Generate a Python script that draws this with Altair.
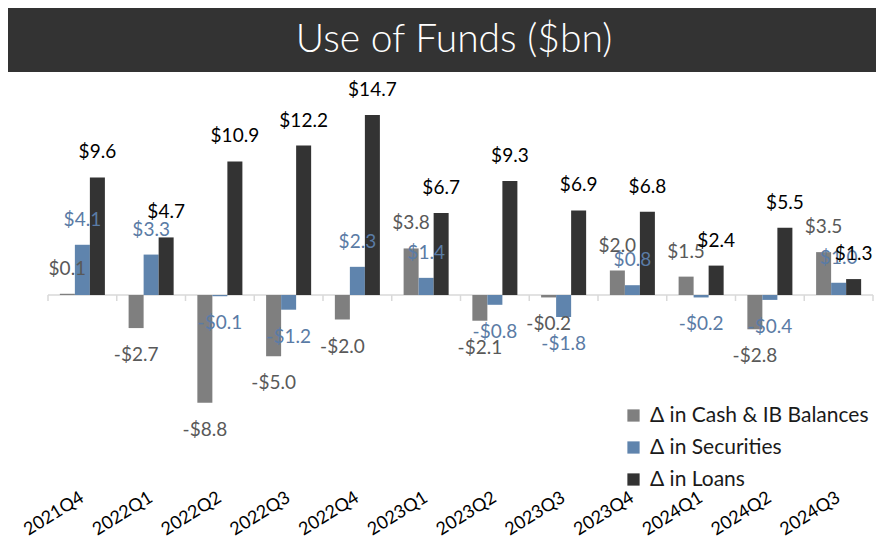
import altair as alt
import pandas as pd

title_text = "Use of Funds ($bn)"
quarters = ["2021Q4", "2022Q1", "2022Q2", "2022Q3", "2022Q4", "2023Q1",
            "2023Q2", "2023Q3", "2023Q4", "2024Q1", "2024Q2", "2024Q3"]
series_names = ["Δ in Cash & IB Balances", "Δ in Securities", "Δ in Loans"]
cash = [0.1, -2.7, -8.8, -5.0, -2.0, 3.8, -2.1, -0.2, 2.0, 1.5, -2.8, 3.5]
securities = [4.1, 3.3, -0.1, -1.2, 2.3, 1.4, -0.8, -1.8, 0.8, -0.2, -0.4, 1.0]
loans = [9.6, 4.7, 10.9, 12.2, 14.7, 6.7, 9.3, 6.9, 6.8, 2.4, 5.5, 1.3]

bar_colors = ["#7f7f7f", "#5f84ad", "#333333"]
label_colors = ["#595959", "#5a7ba5", "#000000"]

rows = []
for i, q in enumerate(quarters):
    for s, vals in zip(series_names, [cash, securities, loans]):
        v = vals[i]
        rows.append({"quarter": q, "series": s, "value": v,
                     "label": ("-$" if v < 0 else "$") + f"{abs(v):.1f}"})
df = pd.DataFrame(rows)

W, H = 825, 406
ZERO_PX = 215
K = 12.25
ymax = ZERO_PX / K
ymin = -(H - ZERO_PX) / K

FONT = "Lato"
AXIS_GRAY = "#d9d9d9"
LABEL_SIZE = 19

x_enc = alt.X(
    "quarter:N", sort=quarters,
    scale=alt.Scale(paddingInner=0, paddingOuter=0),
    axis=alt.Axis(title=None, domain=False, ticks=False,
                  labelAngle=328, labelPadding=10, labelFontSize=18, labelColor="#000000",
                  labelFont=FONT, labelOverlap=False))
xo_enc = alt.XOffset("series:N", sort=series_names,
                     scale=alt.Scale(paddingInner=0, paddingOuter=0.79))
y_scale = alt.Scale(domain=[ymin, ymax], nice=False, zero=False)
y_enc = alt.Y("value:Q", scale=y_scale, axis=None)

base = alt.Chart(df)

tdf = pd.DataFrame({"title": [title_text], "zero": [0.0]})
qdf = pd.DataFrame({"quarter": quarters, "zero": [0.0] * len(quarters)})

zero_line = alt.Chart(tdf).mark_rule(color=AXIS_GRAY, strokeWidth=1.5).encode(
    x=alt.value(0), x2=alt.value(W), y=alt.Y("zero:Q", scale=y_scale, axis=None))

cat_ticks = alt.Chart(qdf).mark_rule(color=AXIS_GRAY, strokeWidth=1.5).encode(
    x=alt.X("quarter:N", sort=quarters, bandPosition=0),
    y=alt.Y("zero:Q", scale=y_scale, axis=None), y2=alt.value(ZERO_PX + 6))

end_tick = alt.Chart(tdf).mark_rule(color=AXIS_GRAY, strokeWidth=1.5).encode(
    x=alt.value(W), y=alt.Y("zero:Q", scale=y_scale, axis=None), y2=alt.value(ZERO_PX + 6))

bars = base.mark_bar().encode(
    x=x_enc, xOffset=xo_enc, y=y_enc,
    color=alt.Color("series:N", sort=series_names,
                    scale=alt.Scale(domain=series_names, range=bar_colors),
                    legend=alt.Legend(title=None, orient="none", legendX=575, legendY=325,
                                      symbolType="square", symbolSize=150,
                                      symbolStrokeWidth=0, labelFontSize=21, labelFont=FONT,
                                      labelColor="#1a1a1a", rowPadding=10, labelLimit=0,
                                      labelOffset=6)))

lab_color = alt.Color("series:N", sort=series_names,
                      scale=alt.Scale(domain=series_names, range=label_colors), legend=None)

pos_labels = base.transform_filter("datum.value >= 0").mark_text(
    baseline="middle", dy=-25, fontSize=LABEL_SIZE, font=FONT).encode(
    x=x_enc, xOffset=xo_enc, y=y_enc, text="label:N", color=lab_color)

neg_labels = base.transform_filter("datum.value < 0").mark_text(
    baseline="middle", dy=27, fontSize=LABEL_SIZE, font=FONT).encode(
    x=x_enc, xOffset=xo_enc, y=y_enc, text="label:N", color=lab_color)

title_rect = alt.Chart(tdf).mark_rect(color="#333333").encode(
    x=alt.value(-40), x2=alt.value(W + 3), y=alt.value(-72), y2=alt.value(-8))
title_txt = alt.Chart(tdf).mark_text(color="white", fontSize=39, font=FONT, fontWeight=300,
                                     baseline="middle", align="center").encode(
    x=alt.value(406), y=alt.value(-40), text="title:N")

chart = alt.layer(title_rect, title_txt, zero_line, cat_ticks, end_tick,
                  bars, pos_labels, neg_labels).resolve_scale(
    color="independent"
).properties(width=W, height=H, padding=0, background="white").configure_view(stroke=None)

chart.save("out.html", embed_options={"renderer": "svg", "actions": False})
